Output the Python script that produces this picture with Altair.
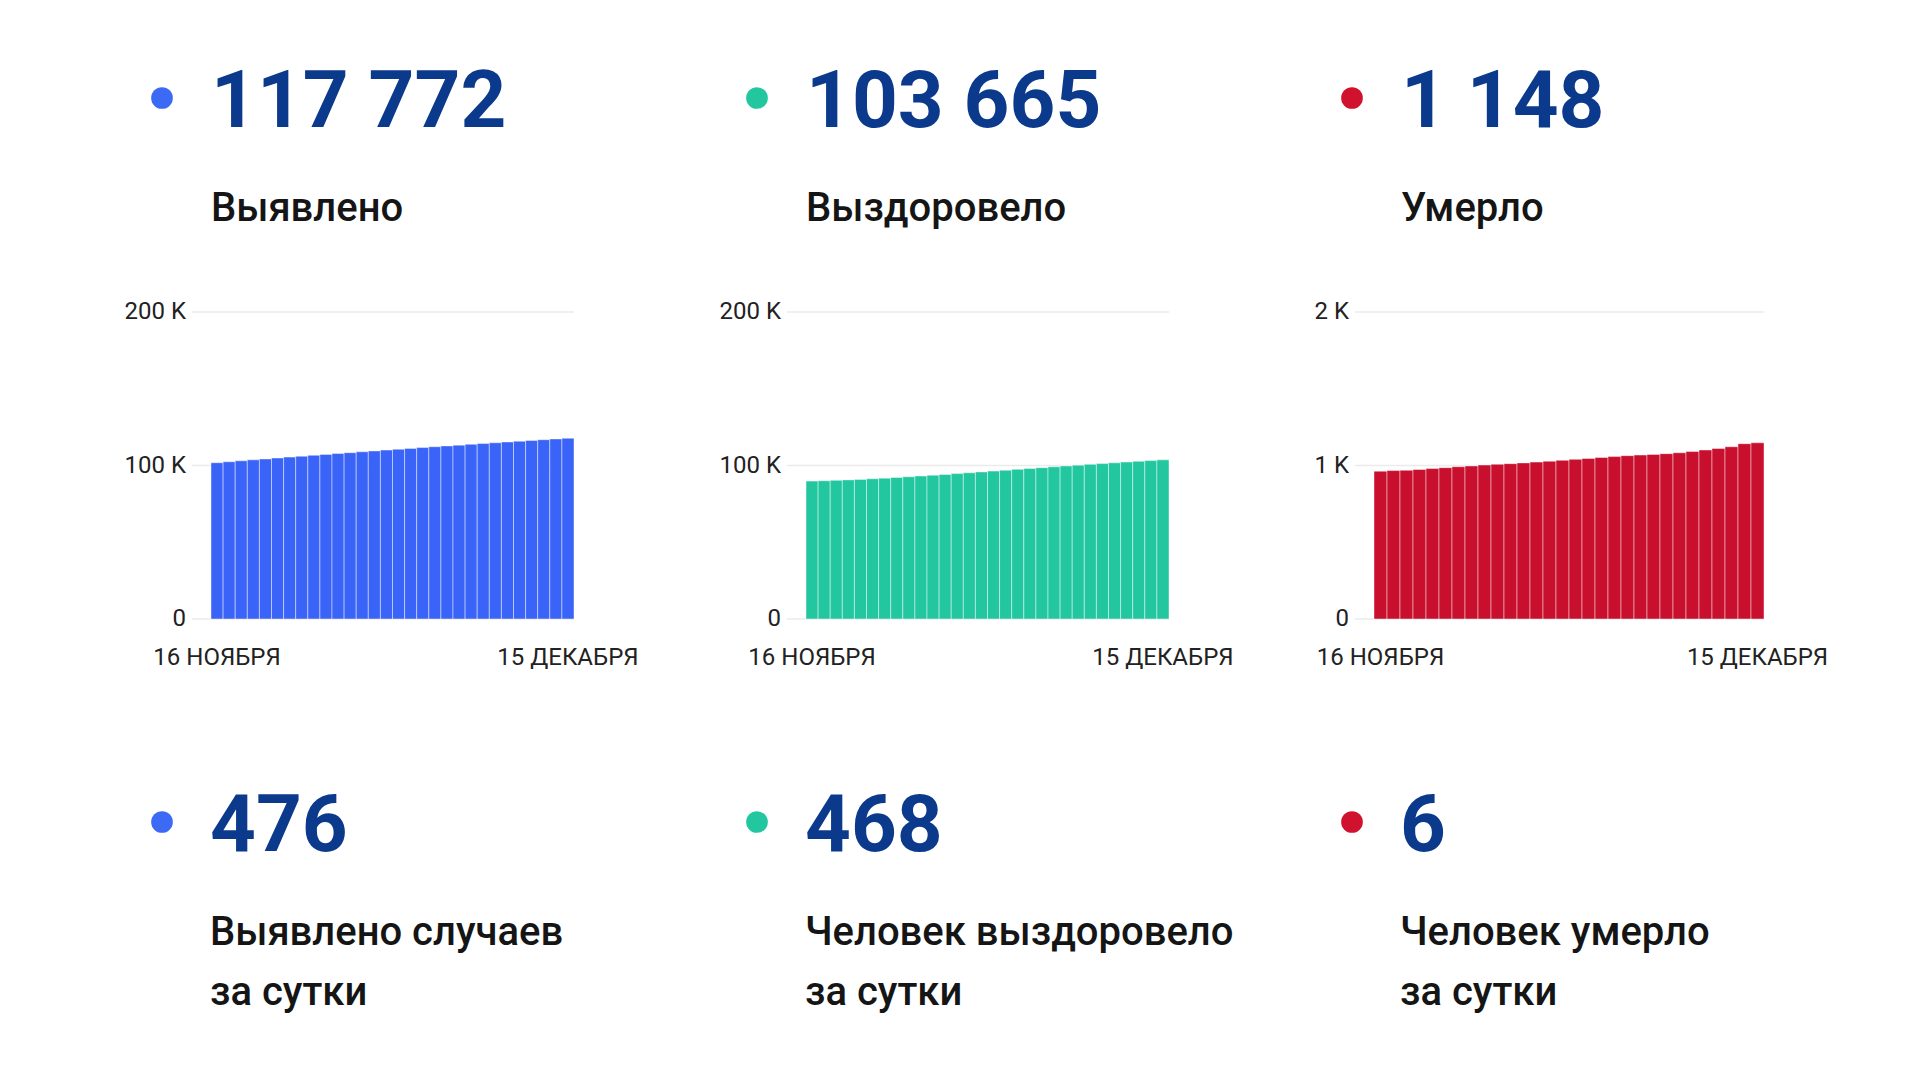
import altair as alt
import pandas as pd

# ---------------- data ----------------
dates = ["16 НОЯБРЯ", "15 ДЕКАБРЯ"]

detected = [101820, 102440, 103055, 103665, 104270, 104870, 105465, 106055, 106640, 107220,
            107795, 108365, 108930, 109490, 110045, 110595, 111140, 111680, 112215, 112745,
            113270, 113790, 114305, 114820, 115330, 115825, 116320, 116810, 117296, 117772]

recovered = [89830, 90060, 90320, 90620, 90960, 91340, 91750, 92190, 92660, 93150,
             93660, 94180, 94710, 95250, 95800, 96360, 96920, 97480, 98040, 98600,
             99150, 99690, 100220, 100740, 101250, 101750, 102240, 102720, 103197, 103665]

deaths = [963, 967, 969, 974, 980, 986, 992, 997, 1003, 1008,
          1012, 1017, 1022, 1028, 1034, 1040, 1046, 1052, 1058, 1064,
          1068, 1072, 1077, 1083, 1091, 1101, 1111, 1122, 1142, 1148]

totals = ["117 772", "103 665", "1 148"]
total_labels = ["Выявлено", "Выздоровело", "Умерло"]
daily = ["476", "468", "6"]
daily_labels = [["Выявлено случаев", "за сутки"],
                ["Человек выздоровело", "за сутки"],
                ["Человек умерло", "за сутки"]]

y_ticks = [[0, 100000, 200000], [0, 100000, 200000], [0, 1000, 2000]]
y_tick_labels = [["0", "100 K", "200 K"], ["0", "100 K", "200 K"], ["0", "1 K", "2 K"]]

series = [detected, recovered, deaths]
bar_colors = ["#3A64F8", "#22C7A0", "#C8102E"]
dot_colors = ["#3D6AF5", "#22C7A0", "#D0122F"]

# ---------------- layout (pixels inside each column) ----------------
COL_W = 595
H = 1080
bar_ranges = [(111, 474), (111, 474), (84, 474)]
Y_RANGE = [619, 312]
GRID_GAP = 19
NUM_COLOR = "#0B3A8C"
TXT_COLOR = "#151515"
AX_COLOR = "#222222"
FONT = "Roboto"


def text_layer(txt, x, y, size, weight, color):
    return alt.Chart(pd.DataFrame({"t": [txt]})).mark_text(
        align="left", baseline="alphabetic", font=FONT, fontSize=size,
        fontWeight=weight, color=color
    ).encode(x=alt.value(x), y=alt.value(y), text="t:N")


def dot_layer(x, y, color):
    return alt.Chart(pd.DataFrame({"t": [0]})).mark_circle(
        size=470, color=color, opacity=1
    ).encode(x=alt.value(x), y=alt.value(y))


def column(k):
    vals = series[k]
    n = len(vals)
    df = pd.DataFrame({"day": list(range(n)), "value": vals})
    df["day2"] = df["day"] + 1
    df["base"] = 0
    ymax = y_ticks[k][-1]
    xs = alt.Scale(domain=[0, n], range=list(bar_ranges[k]), nice=False, zero=False, padding=0)
    ys = alt.Scale(domain=[0, ymax], range=Y_RANGE, nice=False, zero=False, padding=0)

    bars = alt.Chart(df).mark_rect(
        color=bar_colors[k], stroke="white", strokeWidth=0.8, strokeOpacity=0.55
    ).encode(
        x=alt.X("day:Q", scale=xs, axis=None),
        x2="day2:Q",
        y=alt.Y("value:Q", scale=ys, axis=None),
        y2="base:Q",
    )

    tick_df = pd.DataFrame({"v": y_ticks[k], "lab": y_tick_labels[k],
                            "x0": [0] * 3, "x1": [n] * 3})
    grid = alt.Chart(tick_df).mark_rule(color="#EBEBEB", strokeWidth=1.5, xOffset=-GRID_GAP).encode(
        y=alt.Y("v:Q", scale=ys, axis=None),
        x=alt.X("x0:Q", scale=xs, axis=None),
        x2="x1:Q",
    )
    ylabels = alt.Chart(tick_df).mark_text(
        align="right", baseline="middle", dx=-25, font=FONT, fontSize=24, color=AX_COLOR
    ).encode(
        y=alt.Y("v:Q", scale=ys, axis=None),
        x=alt.X("x0:Q", scale=xs, axis=None),
        text="lab:N",
    )
    xlab_df = pd.DataFrame({"d": [0.5, n - 0.5], "lab": dates, "y0": [0, 0]})
    xlabels = alt.Chart(xlab_df).mark_text(
        align="center", baseline="middle", dy=39, font=FONT, fontSize=24, color=AX_COLOR
    ).encode(
        x=alt.X("d:Q", scale=xs, axis=None),
        y=alt.Y("y0:Q", scale=ys, axis=None),
        text="lab:N",
    )

    layers = [
        grid, bars, ylabels, xlabels,
        dot_layer(62, 98, dot_colors[k]),
        text_layer(totals[k], 111, 127, 80, "bold", NUM_COLOR),
        text_layer(total_labels[k], 111, 221, 40, 500, TXT_COLOR),
        dot_layer(62, 822, dot_colors[k]),
        text_layer(daily[k], 110, 851, 80, "bold", NUM_COLOR),
        text_layer(daily_labels[k][0], 110, 945, 40, 500, TXT_COLOR),
        text_layer(daily_labels[k][1], 110, 1005, 40, 500, TXT_COLOR),
    ]
    return alt.layer(*layers).properties(width=COL_W, height=H)


chart = alt.hconcat(column(0), column(1), column(2), spacing=0, bounds="flush").properties(
    padding={"left": 100, "top": 0, "right": 0, "bottom": 0},
    background="white",
).configure_view(stroke=None)

chart.save("out.html", embed_options={"renderer": "svg", "actions": False})
